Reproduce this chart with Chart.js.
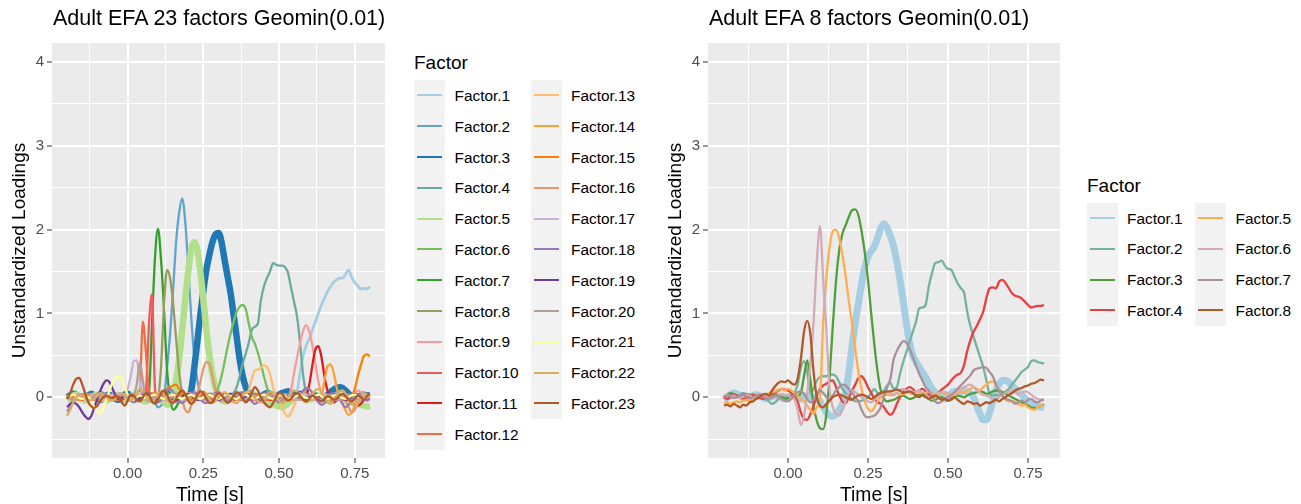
<!DOCTYPE html>
<html><head><meta charset="utf-8">
<script src="https://cdn.jsdelivr.net/npm/chart.js@4.4.1/dist/chart.umd.min.js"></script>
<style>
html,body{margin:0;padding:0;background:#fff;}
#root{position:relative;width:1301px;height:504px;overflow:hidden;font-family:"Liberation Sans",Arial,Helvetica,sans-serif;color:#000;}
.abs{position:absolute;white-space:nowrap;line-height:1;}
canvas{position:absolute;top:0;}
</style></head>
<body><div id="root">
<canvas id="cL" width="400" height="504" style="left:0px"></canvas>
<canvas id="cR" width="410" height="504" style="left:656px"></canvas>
</div>
<script>
// ---------- categories / ticks ----------
const TIME = Array.from({length: 101}, (_, i) => Math.round((-0.2 + i * 0.01) * 100) / 100);
const X_TICKS = [-0.125, 0, 0.125, 0.25, 0.375, 0.5, 0.625, 0.75];
const X_LABELED = [0, 0.25, 0.5, 0.75];
const Y_TICKS = [-0.5, 0, 0.5, 1, 1.5, 2, 2.5, 3, 3.5, 4];
const Y_LABELED = [0, 1, 2, 3, 4];
const LEFT_TITLE = "Adult EFA 23 factors Geomin(0.01)";
const RIGHT_TITLE = "Adult EFA 8 factors Geomin(0.01)";
const LEFT_LABELS = Array.from({length: 23}, (_, i) => "Factor." + (i + 1));
const RIGHT_LABELS = Array.from({length: 8}, (_, i) => "Factor." + (i + 1));

// ---------- left panel series (23 factors), t = -0.20 .. 0.80 step 0.01 ----------
const L01 = [0.02,0.03,0.01,-0.02,0.00,0.03,0.04,0.02,-0.01,0.01, 0.03,0.05,0.02,-0.02,-0.03,0.00,0.03,0.04,0.01,-0.02, -0.03,0.00,0.04,0.05,0.02,-0.02,-0.04,-0.01,0.03,0.04, 0.02,-0.02,-0.05,-0.03,0.01,0.04,0.03,0.00,-0.03,-0.02, 0.02,0.05,0.04,0.00,-0.03,-0.04,-0.01,0.03,0.05,0.03, 0.00,-0.03,-0.02,0.02,0.04,0.03,-0.01,-0.04,-0.03,0.01, 0.04,0.05,0.02,-0.02,-0.03,0.00,0.04,0.06,0.03,0.00, -0.02,0.01,0.04,0.03,0.00,0.02,0.08,0.30,0.50,0.62, 0.70,0.80,0.90,1.00,1.10,1.18,1.26,1.32,1.37,1.40, 1.42,1.42,1.47,1.52,1.43,1.37,1.33,1.29,1.30,1.29, 1.32];
const L02 = [0.03,0.05,0.04,0.01,-0.02,-0.01,0.02,0.04,0.03,0.00, -0.03,-0.02,0.01,0.03,0.02,-0.01,-0.03,-0.02,0.01,0.03, 0.04,0.02,-0.01,-0.03,-0.02,0.01,0.03,0.02,-0.02,-0.06, -0.12,-0.10,-0.02,0.35,0.75,1.28,1.85,2.20,2.37,2.10, 1.55,0.95,0.48,0.20,0.06,0.00,-0.03,-0.02,0.01,0.03, 0.02,-0.01,-0.03,-0.02,0.01,0.04,0.03,0.00,-0.02,-0.01, 0.02,0.04,0.03,0.00,-0.03,-0.02,0.01,0.03,0.02,-0.01, -0.03,-0.01,0.02,0.04,0.02,-0.01,-0.03,-0.02,0.01,0.03, 0.03,0.00,-0.03,-0.04,-0.01,0.02,0.04,0.03,0.00,-0.02, -0.03,-0.01,0.02,0.03,0.01,-0.02,-0.03,-0.01,0.02,0.03, 0.02];
const L03 = [0.00,0.02,0.04,0.03,0.00,-0.02,-0.01,0.02,0.04,0.02, -0.01,-0.03,-0.01,0.02,0.03,0.01,-0.02,-0.03,0.00,0.03, 0.04,0.02,-0.01,-0.02,0.00,0.03,0.05,0.03,0.00,-0.02, -0.03,0.00,0.03,0.04,0.02,-0.01,-0.03,-0.02,0.01,0.00, 0.00,0.08,0.35,0.66,0.98,1.27,1.52,1.70,1.85,1.94, 1.96,1.85,1.64,1.44,1.24,0.98,0.72,0.45,0.25,0.12, 0.05,0.02,0.00,-0.02,0.00,0.03,0.05,0.04,0.02,0.01, 0.03,0.05,0.06,0.07,0.05,0.03,0.02,0.04,0.03,0.01, -0.01,0.00,0.02,0.01,-0.01,0.00,0.03,0.06,0.09,0.11, 0.12,0.11,0.08,0.04,0.01,-0.01,0.00,0.02,0.03,0.02, 0.02];
const L04 = [-0.02,0.00,0.03,0.04,0.02,-0.01,-0.03,-0.02,0.01,0.03, 0.04,0.02,-0.01,-0.03,-0.02,0.01,0.03,0.03,0.00,-0.02, -0.03,-0.01,0.02,0.04,0.03,0.00,-0.03,-0.04,-0.01,0.02, 0.04,0.03,0.00,-0.03,-0.02,0.01,0.04,0.05,0.02,-0.01, -0.03,-0.02,0.01,0.03,0.04,0.02,-0.01,-0.03,-0.02,0.00, 0.02,0.03,0.01,0.00,0.02,0.05,0.12,0.25,0.40,0.52, 0.65,0.80,0.84,0.88,1.15,1.32,1.42,1.50,1.60,1.58, 1.57,1.57,1.55,1.48,1.30,1.13,0.95,0.62,0.25,0.05, 0.00,-0.02,0.01,0.03,0.02,-0.01,-0.03,-0.01,0.02,0.04, 0.03,0.00,-0.02,-0.01,0.02,0.04,0.03,0.01,0.00,0.02, 0.03];
const L05 = [-0.03,-0.01,0.02,0.03,0.01,-0.02,-0.04,-0.03,0.00,0.02, 0.03,0.01,-0.02,-0.04,-0.02,0.01,0.03,0.02,-0.01,-0.03, -0.02,0.01,0.03,0.02,-0.01,-0.04,-0.05,-0.03,0.00,0.02, 0.01,-0.02,-0.05,-0.09,-0.08,0.00,0.20,0.45,0.80,1.16, 1.50,1.76,1.85,1.76,1.50,1.16,0.80,0.50,0.27,0.12, 0.03,-0.03,-0.05,-0.04,-0.02,0.00,0.02,0.01,-0.01,-0.02, 0.00,0.02,0.03,0.01,-0.02,-0.04,-0.05,-0.06,-0.08,-0.10, -0.11,-0.12,-0.10,-0.07,-0.04,-0.02,0.00,0.02,0.01,-0.01, -0.03,-0.02,0.00,0.02,0.01,-0.02,-0.04,-0.03,-0.01,0.01, 0.02,0.00,-0.03,-0.05,-0.06,-0.05,-0.07,-0.09,-0.10,-0.11, -0.10];
const L06 = [0.01,-0.02,-0.03,-0.01,0.02,0.03,0.01,-0.02,-0.03,0.00, 0.03,0.04,0.02,-0.01,-0.03,-0.02,0.01,0.03,0.02,-0.01, -0.03,-0.02,0.01,0.04,0.03,0.00,-0.03,-0.04,-0.01,0.02, 0.03,0.01,-0.02,-0.03,-0.01,0.02,0.04,0.03,0.00,-0.02, -0.03,-0.01,0.02,0.03,0.01,-0.01,-0.02,0.00,0.00,0.05, 0.12,0.25,0.42,0.60,0.76,0.90,1.02,1.08,1.10,1.05, 0.88,0.72,0.64,0.53,0.40,0.25,0.12,0.04,0.00,-0.02, -0.01,0.02,0.03,0.01,-0.02,-0.03,-0.01,0.02,0.03,0.01, -0.02,-0.03,-0.01,0.02,0.03,0.01,-0.02,-0.03,0.00,0.02, 0.03,0.01,-0.02,-0.03,-0.01,0.02,0.03,0.01,-0.01,-0.02, 0.00];
const L07 = [-0.02,0.01,0.03,0.02,-0.01,-0.03,-0.02,0.01,0.03,0.02, 0.00,-0.02,-0.01,0.02,0.04,0.02,-0.01,-0.03,-0.02,0.01, 0.03,0.02,-0.01,-0.03,-0.02,0.00,0.02,0.05,0.85,1.65, 2.01,1.65,1.05,0.32,0.00,-0.15,-0.12,-0.05,0.00,0.02, 0.03,0.01,-0.02,-0.03,-0.01,0.02,0.03,0.01,-0.02,-0.03, -0.01,0.02,0.04,0.03,0.00,-0.02,-0.03,-0.01,0.02,0.03, 0.02,-0.01,-0.03,-0.02,0.01,0.03,0.04,0.02,-0.01,-0.03, -0.02,0.01,0.03,0.02,0.00,-0.02,-0.03,-0.01,0.02,0.04, 0.03,0.00,-0.02,-0.03,-0.01,0.02,0.03,0.02,-0.01,-0.02, -0.01,0.01,0.03,0.02,0.00,-0.02,-0.03,-0.01,0.01,0.02, 0.01];
const L08 = [0.02,0.00,-0.02,-0.03,-0.01,0.02,0.04,0.03,0.00,-0.03, -0.04,-0.02,0.01,0.03,0.02,0.00,-0.02,-0.01,0.02,0.04, 0.03,0.00,-0.03,-0.04,-0.02,0.01,0.03,0.02,-0.01,-0.02, 0.00,0.35,1.10,1.52,1.42,1.12,0.70,0.30,0.05,-0.03, -0.04,-0.02,0.01,0.03,0.02,-0.01,-0.03,-0.02,0.01,0.03, 0.03,0.01,-0.02,-0.03,-0.01,0.02,0.03,0.01,-0.02,-0.03, -0.01,0.02,0.04,0.02,-0.01,-0.03,-0.02,0.01,0.03,0.02, 0.00,-0.02,-0.03,-0.01,0.02,0.03,0.02,-0.01,-0.03,-0.02, 0.01,0.03,0.02,0.00,-0.02,-0.03,-0.01,0.02,0.04,0.02, -0.01,-0.03,-0.02,0.01,0.03,0.02,0.00,-0.02,-0.01,0.01, 0.02];
const L09 = [0.00,0.02,0.03,0.01,-0.02,-0.03,-0.01,0.02,0.03,0.01, -0.01,-0.03,-0.02,0.01,0.03,0.02,0.00,-0.02,-0.03,-0.01, 0.02,0.04,0.03,0.00,-0.02,-0.01,0.02,0.04,0.02,-0.01, -0.03,-0.02,0.01,0.03,0.02,-0.01,-0.03,-0.02,0.00,0.02, 0.03,0.01,-0.02,-0.03,-0.01,0.02,0.03,0.02,-0.01,-0.03, -0.02,0.01,0.03,0.02,0.00,-0.02,-0.03,-0.01,0.02,0.03, 0.01,-0.02,-0.03,-0.01,0.02,0.03,0.02,-0.01,-0.02,0.00, 0.02,0.01,-0.01,0.00,0.10,0.30,0.48,0.66,0.80,0.86, 0.78,0.62,0.40,0.18,0.05,0.00,-0.02,-0.01,0.02,0.03, 0.01,-0.02,-0.03,-0.01,0.02,0.05,0.08,0.06,0.02,-0.01, -0.02];
const L10 = [0.01,-0.01,-0.02,0.00,0.02,0.03,0.01,-0.02,-0.03,-0.01, 0.02,0.03,0.01,-0.02,-0.03,-0.01,0.02,0.03,0.01,-0.01, -0.02,0.00,0.02,0.01,-0.01,0.00,0.06,0.85,1.23,0.12, -0.05,-0.03,0.00,0.02,0.01,-0.02,-0.03,-0.01,0.02,0.03, 0.01,-0.02,-0.03,-0.01,0.02,0.03,0.01,-0.01,-0.02,0.00, 0.02,0.03,0.01,-0.02,-0.03,-0.01,0.02,0.03,0.01,-0.01, -0.03,-0.02,0.01,0.03,0.02,-0.01,-0.03,-0.02,0.01,0.02, 0.03,0.01,-0.02,-0.03,-0.01,0.02,0.03,0.02,-0.01,-0.02, -0.01,0.02,0.03,0.01,-0.02,-0.03,-0.01,0.02,0.03,0.01, -0.01,-0.03,-0.02,0.01,0.03,0.02,0.00,-0.02,-0.01,0.01, 0.02];
const L11 = [-0.01,0.01,0.03,0.02,-0.01,-0.03,-0.02,0.01,0.03,0.02, 0.00,-0.02,-0.03,-0.01,0.02,0.03,0.01,-0.02,-0.03,-0.01, 0.02,0.03,0.01,-0.01,-0.03,-0.02,0.01,0.03,0.02,-0.01, -0.03,-0.01,0.02,0.03,0.01,-0.02,-0.03,-0.01,0.02,0.03, 0.01,-0.01,-0.03,-0.02,0.01,0.03,0.02,-0.01,-0.03,-0.02, 0.01,0.03,0.02,0.00,-0.02,-0.03,-0.01,0.02,0.03,0.01, -0.02,-0.03,-0.01,0.02,0.03,0.01,-0.01,-0.03,-0.02,0.01, 0.01,-0.02,-0.03,-0.01,0.02,0.03,0.01,-0.01,0.00,0.02, 0.15,0.38,0.57,0.61,0.48,0.25,0.08,-0.02,-0.06,-0.04, -0.02,0.01,0.03,0.01,-0.03,-0.07,-0.10,-0.08,-0.03,0.01, 0.02];
const L12 = [0.02,0.03,0.01,-0.01,-0.03,-0.02,0.01,0.03,0.02,0.00, -0.02,-0.03,-0.01,0.02,0.03,0.01,-0.01,-0.03,-0.02,0.01, 0.03,0.02,0.00,0.02,0.08,0.90,0.55,0.05,-0.04,-0.03, 0.00,0.02,0.03,0.01,-0.02,-0.03,-0.01,0.02,0.03,0.01, -0.01,-0.03,-0.02,0.01,0.03,0.02,-0.01,-0.03,-0.02,0.01, 0.03,0.02,-0.01,-0.03,-0.02,0.01,0.03,0.02,0.00,-0.02, -0.03,-0.01,0.02,0.03,0.01,-0.01,-0.03,-0.02,0.01,0.03, 0.02,0.00,-0.02,-0.03,-0.01,0.02,0.03,0.01,-0.01,-0.03, -0.02,0.01,0.03,0.02,-0.01,-0.03,-0.02,0.01,0.03,0.02, 0.00,-0.02,-0.03,-0.01,0.02,0.03,0.01,-0.01,-0.02,0.00, 0.01];
const L13 = [-0.02,0.00,0.03,0.04,0.02,-0.01,-0.03,-0.02,0.01,0.03, 0.04,0.02,-0.01,-0.03,-0.02,0.01,0.03,0.04,0.02,-0.01, -0.03,-0.02,0.01,0.04,0.05,0.03,0.00,-0.03,-0.04,-0.02, 0.01,0.04,0.05,0.03,0.00,-0.03,-0.05,-0.03,0.00,0.03, 0.05,0.04,0.01,-0.02,-0.04,-0.03,0.00,0.03,0.04,0.02, -0.01,-0.03,-0.02,0.01,0.03,0.02,0.00,-0.02,-0.01,0.00, 0.08,0.22,0.32,0.33,0.35,0.38,0.36,0.28,0.12,0.02, -0.05,-0.12,-0.20,-0.23,-0.18,-0.10,-0.02,0.03,0.05,0.03, 0.00,-0.03,-0.02,0.01,0.03,0.04,0.02,-0.01,-0.03,-0.02, 0.01,0.03,0.02,-0.01,-0.04,-0.06,-0.05,-0.02,0.01,0.02, 0.01];
const L14 = [0.01,0.03,0.02,-0.01,-0.03,-0.02,0.01,0.03,0.04,0.02, -0.01,-0.03,-0.02,0.01,0.03,0.02,-0.01,-0.02,0.00,0.02, 0.03,0.01,-0.02,-0.03,-0.01,0.02,0.04,0.03,0.00,-0.02, -0.03,-0.01,0.02,0.04,0.03,0.01,-0.02,-0.03,-0.01,0.02, 0.03,0.02,-0.01,-0.03,-0.02,0.01,0.03,0.04,0.02,-0.01, -0.03,-0.02,0.01,0.03,0.02,0.00,-0.02,-0.03,-0.01,0.02, 0.03,0.01,-0.02,-0.03,-0.01,0.02,0.03,0.02,-0.01,-0.02, 0.00,0.02,0.03,0.01,-0.02,-0.03,-0.01,0.02,0.03,0.01, -0.01,-0.02,0.00,0.02,0.02,0.20,0.37,0.39,0.30,0.12, 0.00,-0.08,-0.16,-0.21,-0.18,-0.10,-0.03,0.01,0.02,0.00, -0.01];
const L15 = [-0.01,0.01,0.02,0.01,-0.01,-0.02,0.00,0.02,0.03,0.01, -0.01,-0.02,-0.01,0.01,0.02,0.01,-0.01,-0.02,-0.01,0.01, 0.02,0.03,0.01,-0.01,-0.02,0.00,0.02,0.04,0.05,0.03, 0.01,0.03,0.06,0.10,0.12,0.14,0.15,0.10,0.04,0.00, -0.02,-0.01,0.01,0.02,0.01,-0.01,-0.02,0.00,0.02,0.03, 0.02,0.00,-0.02,-0.01,0.01,0.02,0.01,-0.01,-0.02,0.00, 0.02,0.03,0.01,-0.01,-0.02,0.00,0.02,0.03,0.02,0.00, -0.02,-0.01,0.01,0.02,0.01,-0.01,-0.02,0.00,0.02,0.03, 0.02,0.00,-0.02,-0.01,0.01,0.03,0.02,0.00,-0.02,-0.01, 0.01,0.02,0.01,-0.01,0.00,0.10,0.25,0.38,0.49,0.51, 0.49];
const L16 = [0.02,0.00,-0.02,-0.03,-0.01,0.02,0.03,0.01,-0.01,-0.03, -0.02,0.01,0.03,0.02,0.00,-0.02,-0.03,-0.01,0.02,0.03, 0.01,-0.01,-0.03,-0.02,0.01,0.03,0.02,-0.01,-0.03,-0.02, 0.01,0.03,0.02,0.00,-0.02,-0.03,-0.03,-0.04,-0.05,-0.15, -0.18,-0.10,-0.02,0.05,0.18,0.34,0.42,0.40,0.25,0.08, -0.03,-0.05,-0.03,0.00,0.02,0.01,-0.02,-0.03,-0.01,0.02, 0.03,0.01,-0.02,-0.03,-0.01,0.02,0.03,0.01,-0.01,-0.03, -0.02,0.01,0.03,0.02,-0.01,-0.03,-0.02,0.01,0.03,0.02, -0.01,-0.03,-0.02,0.01,0.03,0.02,-0.01,-0.03,-0.02,0.01, 0.02,0.00,-0.05,-0.12,-0.18,-0.15,-0.08,-0.02,0.01,0.02, 0.01];
const L17 = [-0.01,0.01,0.03,0.02,0.00,-0.02,-0.03,-0.01,0.02,0.03, 0.01,-0.01,-0.03,-0.02,0.01,0.03,0.04,0.05,0.04,0.02, 0.10,0.25,0.43,0.44,0.18,0.00,-0.03,-0.02,0.01,0.03, 0.02,-0.01,-0.03,-0.02,0.01,0.03,0.02,-0.01,-0.03,-0.02, 0.01,0.03,0.02,0.00,-0.02,-0.03,-0.01,0.02,0.03,0.01, -0.01,-0.03,-0.02,0.01,0.03,0.02,-0.01,-0.03,-0.02,0.01, 0.03,0.02,-0.01,-0.03,-0.02,0.01,0.03,0.02,0.00,-0.02, -0.03,-0.01,0.02,0.03,0.01,-0.01,-0.03,-0.02,0.01,0.03, 0.02,-0.01,-0.03,-0.02,0.01,0.03,0.02,0.00,-0.02,-0.03, -0.01,0.02,0.03,0.01,-0.01,-0.03,-0.02,0.01,0.03,0.02, 0.00];
const L18 = [-0.17,-0.12,-0.05,0.00,0.03,0.02,-0.01,-0.03,-0.02,0.01, 0.04,0.06,0.05,0.02,-0.01,-0.03,-0.02,0.01,0.03,0.02, -0.01,-0.04,-0.06,-0.04,0.00,0.04,0.06,0.05,0.01,-0.03, -0.06,-0.04,0.02,0.08,0.10,0.06,0.00,-0.05,-0.07,-0.04, 0.01,0.05,0.06,0.03,-0.02,-0.06,-0.07,-0.03,0.02,0.05, 0.06,0.03,-0.01,-0.04,-0.05,-0.02,0.02,0.05,0.06,0.03, -0.01,-0.05,-0.08,-0.06,-0.01,0.04,0.06,0.04,0.00,-0.04, -0.06,-0.04,0.00,0.03,0.04,0.02,-0.01,0.03,0.08,0.11, 0.10,0.05,-0.01,-0.06,-0.09,-0.07,-0.02,0.03,0.05,0.03, -0.02,-0.08,-0.12,-0.09,-0.03,0.02,0.04,0.02,-0.02,-0.04, -0.02];
const L19 = [-0.12,-0.08,-0.06,-0.08,-0.12,-0.18,-0.23,-0.26,-0.22,-0.12, -0.02,0.08,0.16,0.20,0.18,0.10,0.02,-0.02,-0.01,0.02, 0.03,0.01,-0.02,-0.03,-0.01,0.02,0.03,0.01,-0.02,-0.03, -0.01,0.02,0.04,0.03,0.00,-0.03,-0.04,-0.02,0.01,0.03, 0.04,0.02,-0.01,-0.03,-0.02,0.01,0.03,0.04,0.02,-0.01, -0.03,-0.02,0.01,0.03,0.04,0.02,-0.01,-0.03,-0.02,0.01, 0.03,0.04,0.02,-0.01,-0.03,-0.02,0.01,0.03,0.04,0.02, -0.01,-0.03,-0.02,0.01,0.03,0.04,0.02,-0.01,-0.03,-0.02, 0.01,0.03,0.04,0.02,-0.01,-0.03,-0.02,0.01,0.03,0.04, 0.02,-0.01,-0.03,-0.02,0.01,0.03,0.02,0.00,-0.02,-0.01, 0.01];
const L20 = [0.01,-0.01,-0.03,-0.02,0.01,0.03,0.02,-0.01,-0.03,-0.02, 0.01,0.03,0.02,0.00,-0.02,-0.03,-0.01,0.02,0.03,0.01, -0.01,-0.02,0.02,0.15,0.42,0.20,-0.02,-0.04,-0.02,0.01, 0.03,0.02,-0.01,-0.03,-0.02,0.01,0.03,0.02,-0.01,-0.03, -0.02,0.01,0.03,0.02,0.00,-0.02,-0.03,-0.01,0.02,0.03, 0.01,-0.01,-0.03,-0.02,0.01,0.03,0.02,-0.01,-0.03,-0.02, 0.01,0.03,0.02,0.00,-0.02,-0.03,-0.01,0.02,0.03,0.01, -0.01,-0.03,-0.02,0.01,0.03,0.02,-0.01,-0.03,-0.02,0.01, 0.03,0.02,0.00,-0.02,-0.03,-0.01,0.02,0.03,0.01,-0.01, -0.03,-0.02,0.01,0.03,0.02,0.00,-0.02,-0.03,-0.01,0.01, 0.02];
const L21 = [0.00,0.02,0.03,0.01,-0.01,-0.02,0.00,0.00,-0.05,-0.12, -0.17,-0.19,-0.12,-0.02,0.08,0.18,0.23,0.25,0.22,0.12, 0.03,-0.02,-0.03,0.00,0.02,0.01,-0.01,0.00,0.02,0.03, 0.01,-0.01,-0.02,0.00,0.02,0.03,0.01,-0.01,-0.02,0.00, 0.02,0.03,0.01,-0.01,-0.02,0.00,0.02,0.03,0.01,-0.01, -0.02,0.00,0.02,0.03,0.01,-0.01,-0.02,0.00,0.02,0.03, 0.01,-0.01,-0.02,0.00,0.02,0.03,0.01,-0.01,-0.02,0.00, 0.02,0.03,0.01,-0.01,-0.02,0.00,0.02,0.03,0.01,-0.01, -0.02,0.00,0.02,0.03,0.01,-0.01,-0.02,0.00,0.02,0.03, 0.01,-0.01,-0.02,0.00,0.02,0.03,0.01,-0.01,-0.02,0.00, 0.01];
const L22 = [-0.22,-0.15,-0.06,0.00,0.03,0.02,-0.01,-0.04,-0.03,0.00, 0.03,0.05,0.03,0.00,-0.03,-0.04,-0.01,0.03,0.05,0.03, 0.00,-0.03,-0.02,0.04,0.10,0.08,0.02,-0.04,-0.06,-0.02, 0.04,0.07,0.03,-0.03,-0.07,-0.05,0.01,0.06,0.08,0.04, -0.02,-0.06,-0.05,0.00,0.05,0.07,0.04,-0.02,-0.06,-0.05, 0.00,0.04,0.06,0.03,-0.02,-0.06,-0.07,-0.03,0.02,0.06, 0.07,0.04,-0.01,-0.05,-0.06,-0.03,0.02,0.06,0.05,0.01, -0.04,-0.07,-0.05,0.00,0.05,0.08,0.06,0.01,-0.04,-0.06, -0.03,0.03,0.08,0.10,0.06,0.00,-0.06,-0.08,-0.04,0.02, 0.07,0.08,0.04,-0.03,-0.08,-0.10,-0.06,0.00,0.05,0.03, 0.00];
const L23 = [-0.02,0.05,0.15,0.22,0.23,0.15,0.04,-0.06,-0.11,-0.13, -0.10,-0.04,0.00,0.02,0.00,-0.01,0.01,0.00,-0.06,-0.10, -0.04,0.03,0.02,-0.03,-0.05,0.00,0.05,0.03,-0.05,-0.08, -0.03,0.05,0.08,0.03,-0.05,-0.07,-0.02,0.05,0.08,0.04, -0.04,-0.08,-0.05,0.03,0.07,0.05,-0.02,-0.07,-0.06,0.01, 0.05,0.03,-0.03,-0.07,-0.04,0.02,0.06,0.04,-0.02,-0.06, -0.03,0.05,0.12,0.08,0.00,-0.06,-0.10,-0.12,-0.07,0.00, 0.05,0.04,-0.01,-0.04,-0.02,0.03,0.05,0.02,-0.03,-0.05, -0.02,0.02,0.00,-0.03,-0.05,-0.02,0.01,0.00,-0.03,-0.02, 0.02,0.04,0.01,-0.03,-0.05,-0.02,0.02,0.00,-0.03,0.01, 0.04];

// ---------- right panel series (8 factors) ----------
const R1 = [-0.03,0.00,0.03,0.05,0.04,0.02,0.00,-0.01,0.00,0.02, 0.03,0.02,0.00,-0.02,-0.01,0.01,0.02,0.01,-0.01,-0.02, 0.00,0.02,0.01,-0.01,-0.02,0.00,0.02,0.01,-0.01,-0.03, -0.05,-0.12,-0.18,-0.22,-0.23,-0.20,-0.15,-0.08,0.05,0.30, 0.60,0.88,1.12,1.35,1.55,1.68,1.74,1.80,1.90,2.02, 2.07,2.02,1.92,1.80,1.62,1.40,1.15,0.88,0.65,0.50, 0.42,0.36,0.30,0.24,0.17,0.10,0.06,0.04,0.02,-0.02, 0.00,0.05,0.07,0.05,0.06,0.08,0.07,0.05,0.00,-0.10, -0.20,-0.27,-0.27,-0.18,-0.05,0.08,0.16,0.20,0.20,0.18, 0.14,0.10,0.06,0.03,-0.01,-0.04,-0.06,-0.08,-0.10,-0.12, -0.13];
const R2 = [0.00,0.02,0.04,0.03,0.01,0.03,0.05,0.03,0.00,-0.02, 0.00,0.02,0.01,-0.02,-0.05,-0.08,-0.06,-0.02,0.01,0.00, 0.02,0.01,0.05,0.15,0.35,0.43,0.30,0.05,0.10,0.20, 0.24,0.25,0.25,0.27,0.27,0.25,0.18,0.10,0.05,0.02, -0.02,-0.05,-0.05,-0.04,-0.03,0.00,0.05,0.10,0.05,0.05, 0.08,0.14,0.17,0.10,0.12,0.28,0.42,0.54,0.66,0.78, 0.90,1.06,1.07,1.10,1.32,1.48,1.60,1.61,1.63,1.57, 1.53,1.52,1.44,1.36,1.30,1.25,1.02,0.85,0.72,0.60, 0.48,0.36,0.20,0.04,0.02,0.03,0.02,0.04,0.07,0.10, 0.15,0.20,0.25,0.30,0.33,0.36,0.43,0.44,0.42,0.41, 0.40];
const R3 = [0.00,0.03,0.05,0.04,0.02,0.00,0.02,0.04,0.03,0.00, -0.02,0.00,0.02,0.01,-0.01,0.00,0.03,0.02,0.00,-0.02, -0.01,0.01,0.00,0.02,0.05,0.25,0.44,0.20,-0.10,-0.28, -0.37,-0.38,-0.20,0.25,0.85,1.38,1.75,1.95,2.05,2.15, 2.23,2.24,2.17,1.98,1.72,1.40,1.00,0.62,0.30,0.08, -0.02,-0.05,-0.04,-0.03,-0.01,0.01,0.02,0.00,-0.02,-0.01, 0.01,0.03,0.02,0.00,-0.02,-0.04,-0.03,-0.01,0.00,-0.02, -0.04,-0.03,0.00,0.02,0.01,0.00,0.02,0.04,0.05,0.06, 0.07,0.06,0.04,0.05,0.07,0.08,0.08,0.06,0.04,0.02, 0.00,-0.02,-0.04,-0.06,-0.08,-0.10,-0.12,-0.13,-0.12,-0.10, -0.08];
const R4 = [0.00,-0.02,0.00,0.03,0.02,0.00,-0.02,-0.01,0.01,0.03, 0.02,0.00,-0.02,-0.01,0.02,0.04,0.06,0.08,0.10,0.09, 0.08,0.05,0.00,-0.05,-0.18,-0.26,-0.27,-0.20,-0.10,0.02, 0.10,0.14,0.16,0.19,0.20,0.12,0.02,-0.05,-0.07,0.00, 0.08,0.15,0.23,0.25,0.20,0.12,0.05,-0.02,-0.06,-0.08, -0.12,-0.18,-0.21,-0.17,-0.08,0.00,0.06,0.10,0.12,0.10, 0.06,0.08,0.10,0.07,0.03,0.00,0.02,0.05,0.09,0.12, 0.15,0.20,0.24,0.27,0.29,0.38,0.55,0.68,0.78,0.85, 0.93,1.02,1.18,1.30,1.31,1.30,1.38,1.40,1.36,1.30, 1.24,1.21,1.20,1.18,1.14,1.10,1.07,1.08,1.09,1.09, 1.10];
const R5 = [-0.07,-0.06,-0.08,-0.06,-0.05,-0.06,-0.04,-0.03,-0.04,-0.02, -0.01,0.00,0.01,0.03,0.05,0.06,0.07,0.09,0.10,0.08, 0.10,0.08,0.05,0.02,-0.02,-0.05,-0.10,-0.15,-0.20,-0.12, 0.00,0.90,1.42,1.80,1.98,2.00,1.90,1.70,1.45,1.15, 0.88,0.58,0.30,0.10,-0.05,-0.14,-0.17,-0.12,-0.05,0.00, 0.02,0.03,0.02,0.04,0.05,0.03,0.04,0.06,0.05,0.04, 0.05,0.06,0.04,0.05,0.07,0.05,0.03,0.05,0.06,0.04, 0.02,0.00,0.02,0.05,0.07,0.05,0.08,0.10,0.12,0.10, 0.08,0.12,0.15,0.18,0.19,0.14,0.08,0.02,-0.03,-0.05, -0.04,-0.06,-0.08,-0.10,-0.09,-0.12,-0.14,-0.15,-0.12,-0.10, -0.08];
const R6 = [0.02,0.03,0.01,0.02,0.00,-0.01,0.01,0.03,0.02,0.00, 0.00,0.02,0.03,0.02,0.00,-0.02,0.00,0.02,0.04,0.03, 0.02,0.00,-0.02,-0.15,-0.33,-0.22,0.05,0.40,0.90,1.62, 2.04,1.40,0.80,0.10,-0.12,-0.20,-0.22,-0.15,-0.05,0.05, 0.08,0.06,0.03,0.00,-0.02,-0.05,-0.06,-0.03,0.00,0.03, 0.05,0.06,0.04,0.02,0.05,0.08,0.10,0.08,0.06,0.05, 0.07,0.08,0.05,0.02,0.00,-0.02,0.00,0.03,0.05,0.06, 0.05,0.03,0.05,0.08,0.10,0.12,0.14,0.15,0.12,0.08, 0.05,0.03,0.02,0.00,-0.02,-0.03,0.00,0.03,0.05,0.07, 0.08,0.06,0.04,0.05,0.07,0.06,0.03,0.00,-0.02,-0.03, -0.03];
const R7 = [0.00,0.02,0.01,-0.01,0.00,0.02,0.03,0.01,-0.01,0.00, 0.02,0.03,0.01,-0.01,-0.02,0.00,0.02,0.01,-0.02,-0.04, -0.05,-0.02,0.03,0.06,0.07,0.04,-0.02,-0.06,-0.03,0.03, 0.08,0.05,0.00,-0.02,0.02,0.08,0.12,0.15,0.14,0.10, 0.05,0.00,-0.05,-0.15,-0.22,-0.24,-0.23,-0.22,-0.18,-0.12, 0.00,0.12,0.22,0.45,0.55,0.62,0.67,0.65,0.58,0.48, 0.38,0.28,0.20,0.12,0.08,0.02,-0.05,-0.07,-0.05,-0.02, 0.00,0.03,0.06,0.10,0.14,0.18,0.22,0.26,0.32,0.34, 0.35,0.36,0.35,0.30,0.25,0.15,0.07,0.02,-0.02,-0.03, -0.05,-0.08,-0.06,-0.04,-0.06,-0.03,-0.02,-0.05,-0.06,-0.04, -0.03];
const R8 = [-0.10,-0.09,-0.11,-0.08,-0.10,-0.12,-0.09,-0.10,-0.06,-0.05, -0.02,0.00,0.03,0.04,0.02,0.08,0.13,0.17,0.19,0.18, 0.20,0.17,0.15,0.22,0.45,0.78,0.91,0.75,0.30,0.00, -0.10,-0.12,-0.08,-0.04,0.00,0.02,0.03,0.02,0.00,-0.02, -0.03,0.00,0.02,0.03,0.02,0.00,-0.02,0.00,0.03,0.05, 0.06,0.07,0.07,0.08,0.09,0.08,0.05,0.06,0.07,0.05, 0.02,0.00,0.03,0.01,-0.02,0.00,0.02,0.00,-0.03,-0.02, -0.04,-0.02,0.00,-0.03,-0.06,-0.08,-0.05,-0.06,-0.08,-0.07, -0.10,-0.08,-0.06,-0.07,-0.05,-0.03,-0.05,-0.02,0.00,0.03, 0.05,0.08,0.10,0.11,0.13,0.14,0.16,0.17,0.19,0.21, 0.20];

const LEFT_SERIES = [L01,L02,L03,L04,L05,L06,L07,L08,L09,L10,L11,L12,L13,L14,L15,L16,L17,L18,L19,L20,L21,L22,L23];
const RIGHT_SERIES = [R1,R2,R3,R4,R5,R6,R7,R8];

// ---------- styles ----------
const LEFT_COLORS = ["#A6CEE3","#63A3CC","#1F78B4","#69AC9F","#B2DF8A","#73C05B","#33A02C","#979D62","#FB9A99","#EF5A5B","#E31A1C","#F06D45","#FDBF6F","#FE9F38","#FF7F00","#E5996B","#CAB2D6","#9A78B8","#6A3D9A","#B59E9A","#FFFF99","#D8AC61","#B15928"];
const RIGHT_COLORS = ["#A6CEE3","#73B39C","#509F3C","#EA3F40","#FEAD4F","#D2ABB7","#AA909A","#B15928"];
const LEFT_WIDTHS = [2.8,2.3,6.5,2.3,6.5,2.3,2.3,2.3,2.3,2.3,2.3,2.3,2.3,2.3,2.3,2.3,2.3,2.3,2.3,2.3,2.3,2.3,2.3];
const RIGHT_WIDTHS = [7,2.3,2.3,2.3,2.3,2.3,2.3,2.3];

const FONT = '"Liberation Sans", Arial, Helvetica, sans-serif';
const near = (a, list) => list.some(b => Math.abs(a - b) < 1e-9);

const panelBg = {
  id: 'panelBg',
  beforeDraw(chart) {
    const {ctx, chartArea: a} = chart;
    ctx.save();
    ctx.fillStyle = '#EBEBEB';
    ctx.fillRect(a.left, a.top, a.right - a.left, a.bottom - a.top);
    ctx.restore();
  }
};

function makeChart(id, series, labels, colors, widths, padRight) {
  const n = series.length;
  const datasets = series.map((vals, i) => ({
    label: labels[i],
    data: vals.map((v, j) => ({x: TIME[j], y: v})),
    borderColor: colors[i],
    borderWidth: widths[i],
    pointRadius: 0,
    fill: false,
    cubicInterpolationMode: 'monotone',
    borderJoinStyle: 'round',
    order: n - i
  }));
  return new Chart(document.getElementById(id), {
    type: 'line',
    data: {datasets},
    plugins: [panelBg],
    options: {
      responsive: false,
      animation: false,
      devicePixelRatio: 1,
      events: [],
      layout: {padding: {left: 0, right: padRight, top: 43, bottom: 0}},
      plugins: {legend: {display: false}, tooltip: {enabled: false}, title: {display: false}},
      scales: {
        x: {
          type: 'linear', min: -0.25, max: 0.85,
          afterBuildTicks: s => { s.ticks = X_TICKS.map(v => ({value: v})); },
          afterFit: s => { s.height = 46; },
          ticks: {
            autoSkip: false, maxRotation: 0, padding: 2,
            color: '#4D4D4D', font: {family: FONT, size: 15},
            callback: v => near(v, X_LABELED) ? v.toFixed(2) : ''
          },
          grid: {
            color: '#FFFFFF',
            lineWidth: c => near(c.tick.value, X_LABELED) ? 2 : 1,
            tickColor: c => near(c.tick.value, X_LABELED) ? '#333333' : 'rgba(0,0,0,0)',
            tickLength: 5, tickWidth: 1
          },
          border: {display: false},
          title: {display: false}
        },
        y: {
          type: 'linear', min: -0.725, max: 4.225,
          afterBuildTicks: s => { s.ticks = Y_TICKS.map(v => ({value: v})); },
          afterFit: s => { s.width = 52; },
          ticks: {
            autoSkip: false, padding: 3,
            color: '#4D4D4D', font: {family: FONT, size: 15},
            callback: v => near(v, Y_LABELED) ? String(v) : ''
          },
          grid: {
            color: '#FFFFFF',
            lineWidth: c => near(c.tick.value, Y_LABELED) ? 2 : 1,
            tickColor: c => near(c.tick.value, Y_LABELED) ? '#333333' : 'rgba(0,0,0,0)',
            tickLength: 5, tickWidth: 1
          },
          border: {display: false},
          title: {display: true, text: 'Unstandardized Loadings', color: '#000', font: {family: FONT, size: 19}, padding: {top: 8, bottom: 0}}
        }
      }
    }
  });
}

makeChart('cL', LEFT_SERIES, LEFT_LABELS, LEFT_COLORS, LEFT_WIDTHS, 15);
makeChart('cR', RIGHT_SERIES, RIGHT_LABELS, RIGHT_COLORS, RIGHT_WIDTHS, 6);

// ---------- HTML text: titles, x axis titles, legends ----------
const root = document.getElementById('root');
function addText(text, left, top, size, color) {
  const d = document.createElement('div');
  d.className = 'abs';
  d.textContent = text;
  d.style.left = left + 'px'; d.style.top = top + 'px';
  d.style.fontSize = size + 'px'; d.style.color = color || '#000';
  root.appendChild(d);
  return d;
}
function addBox(left, top, w, h, bg) {
  const d = document.createElement('div');
  d.style.position = 'absolute';
  d.style.left = left + 'px'; d.style.top = top + 'px';
  d.style.width = w + 'px'; d.style.height = h + 'px';
  d.style.background = bg;
  root.appendChild(d);
}
addText(LEFT_TITLE, 53, 8, 21.5);
addText(RIGHT_TITLE, 709, 8, 21.5);
addText('Time [s]', 176, 484.5, 19.3);
addText('Time [s]', 840, 484.5, 19.3);

function legend(labels, colors, titleX, titleY, colX, labX, top, rowH, perCol) {
  addText('Factor', titleX, titleY, 19);
  const nCols = Math.ceil(labels.length / perCol);
  for (let c = 0; c < nCols; c++) {
    const rows = Math.min(perCol, labels.length - c * perCol);
    addBox(colX[c], top, 31, rows * rowH, '#F2F2F2');
  }
  labels.forEach((lab, i) => {
    const c = Math.floor(i / perCol), r = i % perCol;
    const cy = top + r * rowH + rowH / 2;
    addBox(colX[c] + 3, cy - 1, 25, 2, colors[i]);
    addText(lab, labX[c], cy - 7.5, 15.4);
  });
}
legend(LEFT_LABELS, LEFT_COLORS, 414, 52.5, [414, 531], [454.5, 571], 80, 30.8, 12);
legend(RIGHT_LABELS, RIGHT_COLORS, 1087, 175.5, [1087, 1195], [1127, 1235.5], 202.7, 30.75, 4);
</script>
</body></html>
